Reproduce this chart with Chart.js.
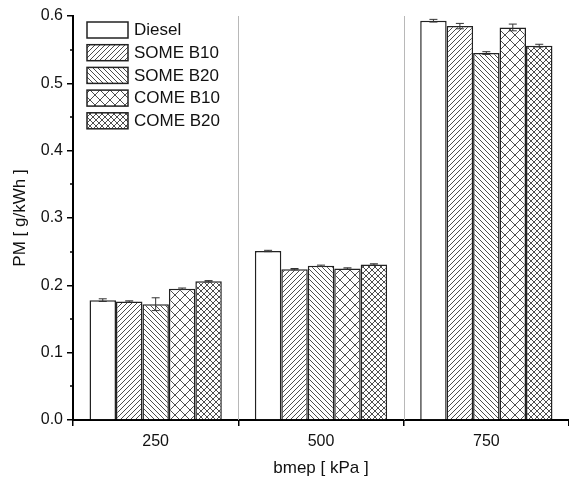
<!DOCTYPE html>
<html>
<head>
<meta charset="utf-8">
<script src="https://cdn.jsdelivr.net/npm/chart.js@4"></script>
<style>
  html, body { margin: 0; padding: 0; background: #fff; }
  #wrap { width: 569px; height: 483px; position: relative; }
</style>
</head>
<body>
<div id="wrap"><canvas id="pmChart"></canvas></div>
<script>
const loads = ["250", "500", "750"];
const fuels = ["Diesel", "SOME B10", "SOME B20", "COME B10", "COME B20"];

const diesel = [0.178, 0.251, 0.593];
const someB10 = [0.176, 0.224, 0.585];
const someB20 = [0.172, 0.229, 0.545];
const comeB10 = [0.195, 0.225, 0.583];
const comeB20 = [0.206, 0.231, 0.556];

const dieselErr = [0.002, 0.001, 0.002];
const someB10Err = [0.001, 0.001, 0.004];
const someB20Err = [0.0095, 0.001, 0.002];
const comeB10Err = [0.001, 0.001, 0.005];
const comeB20Err = [0.001, 0.001, 0.002];

const FONT = "'Liberation Sans', Arial, sans-serif";

function makePattern(kind) {
    const size = kind === "cross" ? 10 : (kind === "crossFine" ? 6 : 5);
    const c = document.createElement("canvas");
    c.width = size;
    c.height = size;
    const g = c.getContext("2d");
    g.fillStyle = "#fff";
    g.fillRect(0, 0, size, size);
    g.strokeStyle = "#3a3a3a";
    g.lineWidth = 0.9;
    g.beginPath();
    for (let k = -1; k <= 1; k++) {
        if (kind === "fwd" || kind === "cross" || kind === "crossFine") {
            g.moveTo(k * size, size);
            g.lineTo(k * size + size, 0);
        }
        if (kind === "back" || kind === "cross" || kind === "crossFine") {
            g.moveTo(k * size, 0);
            g.lineTo(k * size + size, size);
        }
    }
    g.stroke();
    return g.createPattern(c, "repeat");
}

const fills = ["#ffffff", makePattern("fwd"), makePattern("back"), makePattern("cross"), makePattern("crossFine")];
const values = [diesel, someB10, someB20, comeB10, comeB20];
const errors = [dieselErr, someB10Err, someB20Err, comeB10Err, comeB20Err];

const dividerPlugin = {
    id: "dividers",
    beforeDatasetsDraw(chart) {
        const { ctx, chartArea } = chart;
        const xs = chart.scales.x;
        ctx.save();
        ctx.strokeStyle = "#b8b8b8";
        ctx.lineWidth = 1;
        for (let i = 0; i < loads.length - 1; i++) {
            const x = Math.round((xs.getPixelForTick(i) + xs.getPixelForTick(i + 1)) / 2) + 0.5;
            ctx.beginPath();
            ctx.moveTo(x, chartArea.top);
            ctx.lineTo(x, chartArea.bottom);
            ctx.stroke();
        }
        ctx.restore();
    }
};

const errorBarPlugin = {
    id: "errorBars",
    afterDatasetsDraw(chart) {
        const { ctx } = chart;
        const ys = chart.scales.y;
        ctx.save();
        ctx.strokeStyle = "#333";
        ctx.lineWidth = 1;
        chart.data.datasets.forEach((ds, i) => {
            const meta = chart.getDatasetMeta(i);
            meta.data.forEach((bar, j) => {
                const v = ds.data[j];
                const e = errors[i][j];
                const top = ys.getPixelForValue(v + e);
                const bot = ys.getPixelForValue(v - e);
                ctx.beginPath();
                ctx.moveTo(bar.x, top);
                ctx.lineTo(bar.x, bot);
                ctx.moveTo(bar.x - 4, top);
                ctx.lineTo(bar.x + 4, top);
                ctx.moveTo(bar.x - 4, bot);
                ctx.lineTo(bar.x + 4, bot);
                ctx.stroke();
            });
        });
        ctx.restore();
    }
};

const minorTickPlugin = {
    id: "minorTicks",
    afterDraw(chart) {
        const { ctx } = chart;
        const ys = chart.scales.y;
        ctx.save();
        ctx.strokeStyle = "#000";
        ctx.lineWidth = 1.5;
        for (let v = 0.05; v < 0.6; v += 0.1) {
            const y = Math.round(ys.getPixelForValue(v));
            ctx.beginPath();
            ctx.moveTo(ys.right - 3, y);
            ctx.lineTo(ys.right, y);
            ctx.stroke();
        }
        ctx.restore();
    }
};

const insideLegendPlugin = {
    id: "insideLegend",
    afterDraw(chart) {
        const { ctx } = chart;
        ctx.save();
        ctx.font = "17px " + FONT;
        ctx.textBaseline = "middle";
        chart.data.datasets.forEach((ds, i) => {
            const y = 22 + i * 22.7;
            ctx.fillStyle = ds.backgroundColor;
            ctx.fillRect(87, y, 41, 16);
            ctx.strokeStyle = "#222";
            ctx.lineWidth = 1.5;
            ctx.strokeRect(87, y, 41, 16);
            ctx.fillStyle = "#111";
            ctx.fillText(ds.label, 134, y + 8.5);
        });
        ctx.restore();
    }
};

new Chart(document.getElementById("pmChart"), {
    type: "bar",
    data: {
        labels: loads,
        datasets: fuels.map((name, i) => ({
            label: name,
            data: values[i],
            backgroundColor: fills[i],
            borderColor: "#222",
            borderWidth: 1.5,
            categoryPercentage: 0.8,
            barPercentage: 1.0
        }))
    },
    options: {
        responsive: true,
        maintainAspectRatio: false,
        animation: false,
        layout: { padding: { top: 16, right: 0, left: 0, bottom: 0 } },
        plugins: {
            legend: { display: false },
            tooltip: { enabled: false }
        },
        scales: {
            x: {
                grid: { offset: true, drawOnChartArea: false, tickLength: 6, color: "#000", lineWidth: 1.5 },
                border: { color: "#000", width: 2 },
                ticks: { color: "#111", font: { family: FONT, size: 16 }, padding: 6 },
                title: { display: true, text: "bmep [ kPa ]", color: "#111", font: { family: FONT, size: 17 }, padding: { top: 8, bottom: 4 } },
                afterFit(scale) { scale.height = 63; }
            },
            y: {
                min: 0,
                max: 0.6,
                grid: { drawOnChartArea: false, tickLength: 6, color: "#000", lineWidth: 1.5 },
                border: { color: "#000", width: 2 },
                ticks: {
                    stepSize: 0.1,
                    color: "#111",
                    font: { family: FONT, size: 16 },
                    padding: 4,
                    callback: v => Number(v).toFixed(1)
                },
                title: { display: true, text: "PM [ g/kWh ]", color: "#111", font: { family: FONT, size: 17 }, padding: { top: 10, bottom: 6 } },
                afterFit(scale) { scale.width = 73; }
            }
        }
    },
    plugins: [dividerPlugin, errorBarPlugin, minorTickPlugin, insideLegendPlugin]
});
</script>
</body>
</html>
